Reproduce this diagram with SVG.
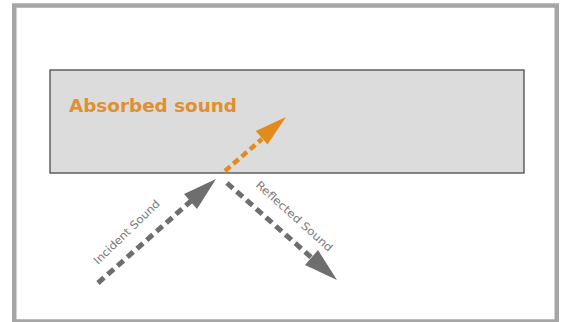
<svg xmlns="http://www.w3.org/2000/svg" width="563" height="322" viewBox="0 0 563 322">
<style>
.frame{fill:#ffffff;stroke:#a6a6a6;stroke-width:4.5}
.panel{fill:#dcdcdc;stroke:#4a4a4a;stroke-width:1.3}
.gray{stroke:#6e6e6e;stroke-width:5;stroke-dasharray:8 5;fill:none}
.orange{stroke:#e28a1c;stroke-width:4.5;stroke-dasharray:7 4;fill:none}
.ghead{fill:#6e6e6e}
.ohead{fill:#e28a1c}
.lbl{font-family:"DejaVu Sans","Liberation Sans",sans-serif;font-size:11px;fill:#7a7a7a}
.title{font-family:"DejaVu Sans","Liberation Sans",sans-serif;font-size:18px;font-weight:bold;fill:#e0902e}
</style>
<rect class="frame" x="14.25" y="5.5" width="542.5" height="316"/>
<g id="surface">
<rect class="panel" x="50" y="70" width="474" height="103"/>
<text class="title" x="69" y="112" textLength="168" lengthAdjust="spacingAndGlyphs">Absorbed sound</text>
</g>
<g id="connectors">
<g id="absorbed">
<line class="orange" x1="225" y1="171" x2="262" y2="139"/>
<polygon class="ohead" points="286,117 267.5,144.6 255.8,131"/>
</g>
<g id="incident">
<line class="gray" x1="98" y1="283" x2="191" y2="201"/>
<polygon class="ghead" points="216,179 197,209 184,194"/>
<text class="lbl" transform="translate(98,265) rotate(-44)" textLength="87" lengthAdjust="spacingAndGlyphs">Incident Sound</text>
</g>
<g id="reflected">
<line class="gray" x1="227" y1="183" x2="312" y2="258"/>
<polygon class="ghead" points="337,280 305,265 318,250"/>
<text class="lbl" transform="translate(255,186) rotate(42)" textLength="99" lengthAdjust="spacingAndGlyphs">Reflected Sound</text>
</g>
</g>
</svg>
